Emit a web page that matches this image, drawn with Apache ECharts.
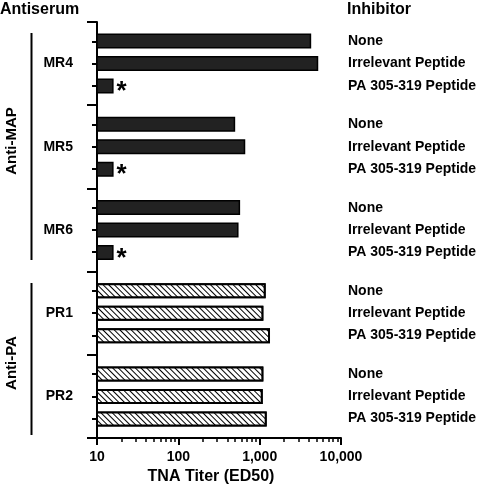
<!DOCTYPE html>
<html>
<head>
<meta charset="utf-8">
<script src="https://cdn.jsdelivr.net/npm/echarts@6/dist/echarts.min.js"></script>
<style>
html,body{margin:0;padding:0;background:#fff;}
#chart{width:480px;height:490px;}
</style>
</head>
<body>
<div id="chart"></div>
<script>
// ---- data ----
const groups = ['MR4', 'MR5', 'MR6', 'PR1', 'PR2'];
const antisera = ['Anti-MAP', 'Anti-PA'];
const inhibitors = ['None', 'Irrelevant Peptide', 'PA 305-319 Peptide'];
const titerNone = [4300, 500, 575, 1185, 1110];
const titerIrrelevant = [5250, 665, 550, 1110, 1090];
const titerPA = [16, 16, 16, 1340, 1220];
const hatched = [false, false, false, true, true];
const significant = [true, true, true, false, false];
const xTickLabels = { 10: '10', 100: '100', 1000: '1,000', 10000: '10,000' };

// ---- build ----
const FONT = "'Liberation Sans', Arial, Helvetica, sans-serif";
const SLOTS = 15;
const rowSlots = [3, 7, 11];
const fineRows = [];
const rowIndex = [];
groups.forEach((g, gi) => {
  for (let s = 0; s < SLOTS; s++) {
    const k = rowSlots.indexOf(s);
    fineRows.push(k >= 0 ? inhibitors[k] : '');
    if (k >= 0) rowIndex.push(gi * SLOTS + s);
  }
});

const darkStyle = { color: '#222', borderColor: '#000', borderWidth: 1.5 };
const hatchStyle = {
  color: '#fff', borderColor: '#000', borderWidth: 2,
  decal: { symbol: 'rect', symbolSize: 1, color: '#000', backgroundColor: '#fff',
           dashArrayX: [1, 0], dashArrayY: [1, 3], rotation: Math.PI / 4 }
};

function makeSeries(name, values, withStar) {
  return {
    name: name,
    type: 'bar',
    yAxisIndex: 0,
    barWidth: 15,
    barGap: '50%',
    data: values.map((v, i) => {
      const d = { value: v, itemStyle: hatched[i] ? hatchStyle : darkStyle };
      if (withStar && significant[i]) {
        d.label = { show: true, position: 'right', formatter: '*', distance: 3,
                    fontSize: 26, fontWeight: 'bold', color: '#000', fontFamily: FONT,
                    offset: [0, 6] };
      }
      return d;
    })
  };
}

const chart = echarts.init(document.getElementById('chart'), null, { renderer: 'canvas' });
chart.setOption({
  backgroundColor: '#fff',
  animation: false,
  textStyle: { fontFamily: FONT },
  grid: { left: 97, right: 139, top: 22, bottom: 52, containLabel: false },
  xAxis: {
    type: 'log', logBase: 10, min: 10, max: 10000,
    name: 'TNA Titer (ED50)', nameLocation: 'middle', nameGap: 28,
    nameTextStyle: { fontSize: 16, fontWeight: 'bold', color: '#000', fontFamily: FONT, padding: [0, 16, 0, 0] },
    axisLine: { show: true, lineStyle: { color: '#000', width: 2 } },
    axisTick: { show: true, length: 7, lineStyle: { color: '#000', width: 2 } },
    minorTick: { show: true, length: 4, splitNumber: 9, lineStyle: { color: '#000', width: 1.5 } },
    splitLine: { show: false },
    axisLabel: { fontSize: 14, fontWeight: 'bold', color: '#000', margin: 12,
                 formatter: v => xTickLabels[Math.round(v)] || '' }
  },
  yAxis: [
    {
      type: 'category', data: groups, inverse: true, position: 'left',
      axisLine: { show: true, lineStyle: { color: '#000', width: 2 } },
      axisTick: { show: true, length: 10, lineStyle: { color: '#000', width: 2 } },
      axisLabel: { fontSize: 14, fontWeight: 'bold', color: '#000', margin: 24 },
      splitLine: { show: false }
    },
    {
      type: 'category', data: fineRows, inverse: true, position: 'left',
      axisLine: { show: false },
      axisTick: { show: true, alignWithLabel: true, length: 5,
                  interval: (i) => rowIndex.indexOf(i) >= 0,
                  lineStyle: { color: '#000', width: 2 } },
      axisLabel: { show: false },
      splitLine: { show: false }
    },
    {
      type: 'category', data: fineRows, inverse: true, position: 'right',
      axisLine: { show: false },
      axisTick: { show: false },
      axisLabel: { show: true, interval: 0, margin: 7, fontSize: 14, fontWeight: 'bold', color: '#000' },
      splitLine: { show: false }
    }
  ],
  series: [
    makeSeries(inhibitors[0], titerNone, false),
    makeSeries(inhibitors[1], titerIrrelevant, false),
    makeSeries(inhibitors[2], titerPA, true)
  ],
  graphic: [
    { type: 'text', left: 0, top: 2, style: { text: 'Antiserum', font: 'bold 16px ' + FONT, fill: '#000' } },
    { type: 'text', left: 347, top: 2, style: { text: 'Inhibitor', font: 'bold 16px ' + FONT, fill: '#000' } },
    { type: 'text', x: 12, y: 141, rotation: Math.PI / 2,
      style: { text: antisera[0], font: 'bold 15px ' + FONT, fill: '#000', align: 'center', verticalAlign: 'middle' } },
    { type: 'text', x: 12, y: 363, rotation: Math.PI / 2,
      style: { text: antisera[1], font: 'bold 15px ' + FONT, fill: '#000', align: 'center', verticalAlign: 'middle' } },
    { type: 'line', shape: { x1: 31.5, y1: 33, x2: 31.5, y2: 260 }, style: { stroke: '#000', lineWidth: 2 } },
    { type: 'line', shape: { x1: 31.5, y1: 283, x2: 31.5, y2: 435 }, style: { stroke: '#000', lineWidth: 2 } }
  ]
});
</script>
</body>
</html>
